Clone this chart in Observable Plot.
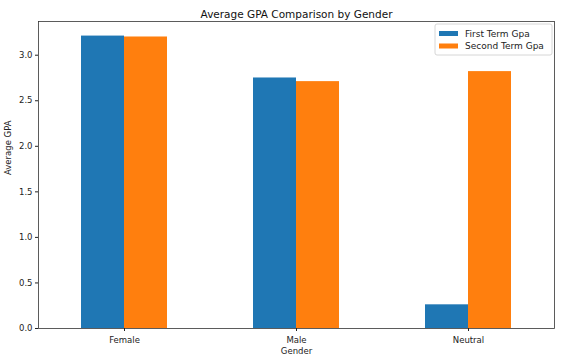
<!DOCTYPE html>
<html><head><meta charset="utf-8">
<script src="https://cdn.jsdelivr.net/npm/d3@7"></script>
<script src="https://cdn.jsdelivr.net/npm/@observablehq/plot@0.6"></script>
<style>body{margin:0;background:#fff;} svg{font-family:"DejaVu Sans",sans-serif;}</style>
</head><body><div id="chart"></div>
<script>
const genders = ["Female", "Male", "Neutral"];
const series = ["First Term Gpa", "Second Term Gpa"];
const firstTerm = [3.21, 2.75, 0.26];
const secondTerm = [3.20, 2.71, 2.82];
const colors = ["#1f77b4", "#ff7f0e"];
const yTicks = [0, 0.5, 1.0, 1.5, 2.0, 2.5, 3.0];

const W = 582, H = 356, mL = 38, mR = 28, mT = 21, mB = 28;
const data = [];
genders.forEach((g, i) => {
  data.push({gender: g, series: series[0], value: firstTerm[i]});
  data.push({gender: g, series: series[1], value: secondTerm[i]});
});
const step = (W - mL - mR) / 3;
const half = step * 0.25;

const plot = Plot.plot({
  width: W, height: H,
  marginLeft: mL, marginRight: mR, marginTop: mT, marginBottom: mB,
  style: {fontFamily: "DejaVu Sans, sans-serif", fontSize: "8.5px", color: "#222"},
  x: {domain: genders, paddingInner: 0.5, paddingOuter: 0.25, label: null},
  y: {domain: [0, 3.37], label: null},
  color: {domain: series, range: colors},
  marks: [
    Plot.barY(data.filter(d => d.series === series[0]), {x: "gender", y: "value", fill: "series", insetRight: half}),
    Plot.barY(data.filter(d => d.series === series[1]), {x: "gender", y: "value", fill: "series", insetLeft: half}),
    Plot.frame({stroke: "#333", strokeWidth: 0.8}),
    Plot.axisY({ticks: yTicks, tickFormat: d3.format(".1f"), tickSize: 3, tickPadding: 3, label: null, fontSize: 8.5}),
    Plot.axisX({tickSize: 3, tickPadding: 5, label: null, fontSize: 8.5}),
    Plot.text(["Average GPA Comparison by Gender"], {frameAnchor: "top", dy: -11, fontSize: 10.5, fill: "#111"}),
    Plot.text(["Gender"], {frameAnchor: "bottom", dy: 25, fontSize: 8.5, fill: "#222"}),
    Plot.text(["Average GPA"], {frameAnchor: "left", dx: -30, rotate: -90, fontSize: 8.5, fill: "#222"})
  ]
});

// legend inside the axes, top-right
const svg = d3.select(plot);
const lg = svg.append("g").attr("transform", "translate(435,24)");
lg.append("rect").attr("width", 117).attr("height", 31).attr("rx", 2)
  .attr("fill", "#fff").attr("fill-opacity", 0.8).attr("stroke", "#ccc").attr("stroke-width", 0.8);
series.forEach((s, i) => {
  lg.append("rect").attr("x", 4).attr("y", 7 + i * 12.5).attr("width", 19).attr("height", 5).attr("fill", colors[i]);
  lg.append("text").attr("x", 30).attr("y", 9.5 + i * 12.5).attr("dy", "0.35em")
    .attr("text-anchor", "start").attr("font-size", 9).attr("fill", "#222").text(s);
});
document.getElementById("chart").appendChild(plot);
</script></body></html>
